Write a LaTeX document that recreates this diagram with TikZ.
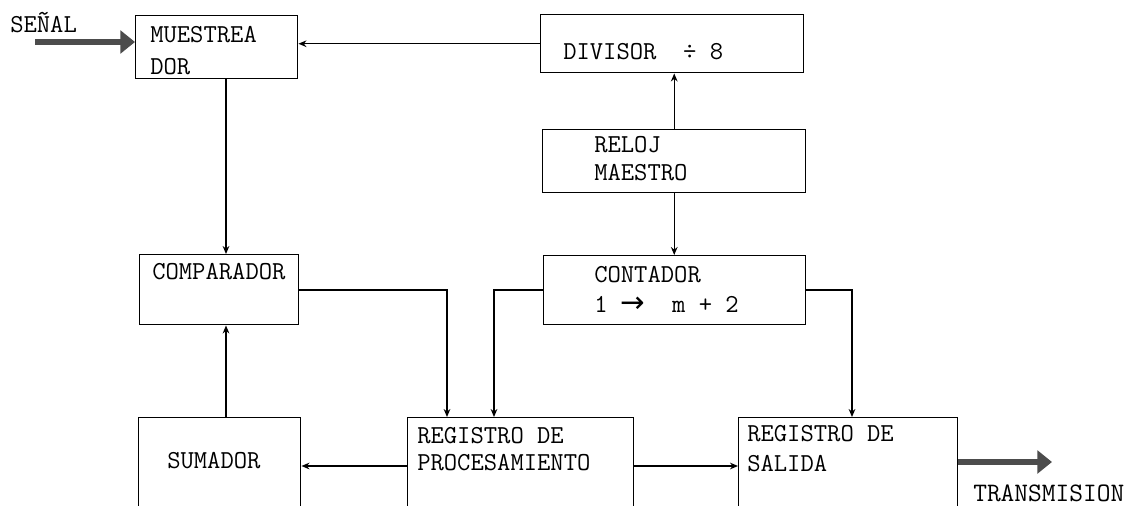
\documentclass[tikz,border=0pt]{standalone}
\usepackage{fontspec}
\newfontfamily\arrowfont{DejaVu Sans}
\usetikzlibrary{arrows.meta}
\begin{document}
\begin{tikzpicture}[x=0.75pt,y=-0.75pt,
  box/.style={draw,line width=1.1pt,rectangle,inner sep=0pt,anchor=north west},
  lbl/.style={anchor=base west,inner sep=0pt,font=\ttfamily\fontsize{19.4}{22}\selectfont},
  conn/.style={line width=1.1pt,-{Stealth[length=6pt,width=5pt]}},
  fat/.style={line width=4pt,draw=black!70,-{Triangle[length=11pt,width=17pt,fill=black!70]}}]
\useasboundingbox (0,0) rectangle (1140,506);
\clip (0,0) rectangle (1140,506);
% boxes
\node[box,minimum width=121.5pt,minimum height=47.25pt] (muest) at (135,15) {};
\node[box,minimum width=197.25pt,minimum height=43.5pt] (div) at (540,14) {};
\node[box,minimum width=197.25pt,minimum height=47.25pt] (reloj) at (542,129) {};
\node[box,minimum width=196.5pt,minimum height=51.75pt] (cont) at (543,255) {};
\node[box,minimum width=119.25pt,minimum height=52.5pt] (comp) at (139,254) {};
\node[box,minimum width=121.5pt,minimum height=77.25pt] (sum) at (138,417) {};
\node[box,minimum width=169.5pt,minimum height=77.25pt] (regproc) at (407,417) {};
\node[box,minimum width=164.25pt,minimum height=77.25pt] (regsal) at (738,417) {};
% texts
\node[lbl] (tsenal) at (10,33) {SEÑAL};
\node[lbl] (tm1) at (150,43) {MUESTREA};
\node[lbl] (tm2) at (150,75) {DOR};
\node[lbl] (tdiv) at (563,60) {DIVISOR\ \ ÷ 8};
\node[lbl] (tr1) at (594,153) {RELOJ};
\node[lbl] (tr2) at (594,181) {MAESTRO};
\node[lbl] (tc1) at (594,283) {CONTADOR};
\node[lbl] (tc2) at (594,312) {1 {\arrowfont\fontsize{22}{22}\selectfont →}\ \ m + 2};
\node[lbl] (tcomp) at (152,280) {COMPARADOR};
\node[lbl] (tsum) at (167,468) {SUMADOR};
\node[lbl] (tp1) at (417,443) {REGISTRO DE};
\node[lbl] (tp2) at (417,470) {PROCESAMIENTO};
\node[lbl] (ts1) at (747,441) {REGISTRO DE};
\node[lbl] (ts2) at (747,471) {SALIDA};
\node[lbl,font=\ttfamily\fontsize{20}{22}\selectfont] (ttx) at (973,501) {TRANSMISION};
% helper coordinates
\coordinate (sin) at (35,42);
\coordinate (sout) at (1052,462);
\coordinate (xa) at (226,0);
\coordinate (ya) at (0,290);
\coordinate (yb) at (0,466);
\coordinate (xc) at (447,0);
\coordinate (xd) at (494,0);
\coordinate (xe) at (852,0);
% connectors
\draw[fat] (sin) -- (sin -| muest.west);
\draw[fat] (regsal.east |- sout) -- (sout);
\draw[conn] (div.west) -- (div.west -| muest.east);
\draw[conn] (reloj.north) -- (div.south -| reloj.north);
\draw[conn] (reloj.south) -- (reloj.south |- cont.north);
\draw[conn] (muest.south -| xa) -- (comp.north -| xa);
\draw[conn] (sum.north -| xa) -- (comp.south -| xa);
\draw[conn] (regproc.west |- yb) -- (sum.east |- yb);
\draw[conn] (regproc.east |- yb) -- (regsal.west |- yb);
\draw[conn] (comp.east |- ya) -| (xc |- regproc.north);
\draw[conn] (cont.west |- ya) -| (xd |- regproc.north);
\draw[conn] (cont.east |- ya) -| (xe |- regsal.north);
\end{tikzpicture}
\end{document}
